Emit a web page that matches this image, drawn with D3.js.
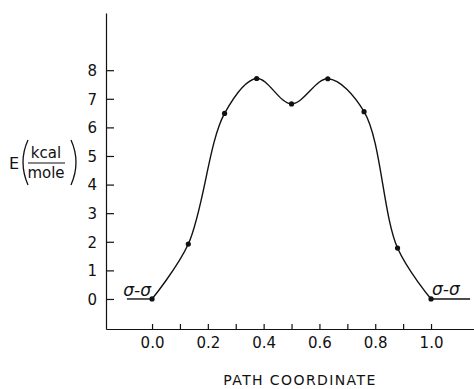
<!DOCTYPE html>
<html>
<head>
<meta charset="utf-8">
<script src="https://cdn.jsdelivr.net/npm/d3@7"></script>
<style>
    body { margin: 0; background: #fff; }
    text { font-family: "DejaVu Sans", sans-serif; fill: #111; }
</style>
</head>
<body>
<div class="canvas"></div>
<script>
// data
const pathCoord = [0.0, 0.13, 0.26, 0.375, 0.5, 0.63, 0.76, 0.88, 1.0];
const energy = [0.0, 1.92, 6.49, 7.71, 6.82, 7.70, 6.55, 1.78, 0.0];
const yTicks = [0, 1, 2, 3, 4, 5, 6, 7, 8];
const xTicks = [0.0, 0.1, 0.2, 0.3, 0.4, 0.5, 0.6, 0.7, 0.8, 0.9, 1.0];
const xLabelled = [0.0, 0.2, 0.4, 0.6, 0.8, 1.0];
const leftLevel = [-0.09, 0.0];
const rightLevel = [1.0, 1.14];
const levelLabel = 'σ-σ';

// svg
const svg = d3.select('.canvas')
    .append('svg')
    .attr('width', 474)
    .attr('height', 389);

// scales
const x = d3.scaleLinear()
    .domain([-0.165, 1.154])
    .range([106, 474]);

const y = d3.scaleLinear()
    .domain([-1.05, 10])
    .range([329, 13]);

// axes
const yAxis = d3.axisLeft(y)
    .tickValues(yTicks)
    .tickSize(-8)
    .tickSizeOuter(0)
    .tickPadding(9)
    .tickFormat(d3.format('d'));

const xAxis = d3.axisBottom(x)
    .tickValues(xTicks)
    .tickSize(-5)
    .tickSizeOuter(0)
    .tickPadding(8)
    .tickFormat(d => xLabelled.some(v => Math.abs(v - d) < 1e-9) ? d3.format('.1f')(d) : '');

const yAxisGroup = svg.append('g')
    .attr('transform', `translate(${x.range()[0]},0)`)
    .call(yAxis);

const xAxisGroup = svg.append('g')
    .attr('transform', `translate(0,${y.range()[0]})`)
    .call(xAxis);

[yAxisGroup, xAxisGroup].forEach(g => {
    g.selectAll('path, line').attr('stroke', '#111').attr('stroke-width', 1.2);
    g.selectAll('text')
        .attr('font-family', '"DejaVu Sans", sans-serif')
        .attr('font-size', 15)
        .attr('fill', '#111');
});
yAxisGroup.selectAll('text').attr('dy', '0.36em');

// curve through the points
const line = d3.line()
    .x(d => x(d[0]))
    .y(d => y(d[1]))
    .curve(d3.curveCatmullRom.alpha(0.5));

const pts = pathCoord.map((c, i) => [c, energy[i]]);

svg.append('path')
    .datum(pts)
    .attr('d', line)
    .attr('fill', 'none')
    .attr('stroke', '#111')
    .attr('stroke-width', 1.4);

svg.selectAll('circle')
    .data(pts)
    .enter()
    .append('circle')
    .attr('cx', d => x(d[0]))
    .attr('cy', d => y(d[1]))
    .attr('r', 2.6)
    .attr('fill', '#111');

// sigma-sigma levels
const flat = d3.line().x(d => x(d)).y(() => y(0));
[leftLevel, rightLevel].forEach(lv => {
    svg.append('path')
        .attr('d', flat(lv))
        .attr('stroke', '#111')
        .attr('stroke-width', 1.4)
        .attr('fill', 'none');
});

svg.append('text')
    .attr('x', x(0) - 1)
    .attr('y', y(0) - 3)
    .attr('text-anchor', 'end')
    .attr('font-size', 17)
    .attr('font-style', 'italic')
    .text(levelLabel);

svg.append('text')
    .attr('x', x(1) + 1)
    .attr('y', y(0) - 4)
    .attr('text-anchor', 'start')
    .attr('font-size', 17)
    .attr('font-style', 'italic')
    .text(levelLabel);

// x title
svg.append('text')
    .attr('x', 300)
    .attr('y', 385)
    .attr('text-anchor', 'middle')
    .attr('font-size', 14)
    .attr('letter-spacing', 1.4)
    .text('PATH COORDINATE');

// y title: E (kcal / mole)
const yLab = svg.append('g');
yLab.append('text')
    .attr('x', 9)
    .attr('y', 169)
    .attr('font-size', 16)
    .text('E');
yLab.append('path')
    .attr('d', 'M28,140 Q18,162 28,185')
    .attr('fill', 'none')
    .attr('stroke', '#111')
    .attr('stroke-width', 1.3);
yLab.append('path')
    .attr('d', 'M71,140 Q81,162 71,185')
    .attr('fill', 'none')
    .attr('stroke', '#111')
    .attr('stroke-width', 1.3);
yLab.append('text')
    .attr('x', 46)
    .attr('y', 158)
    .attr('text-anchor', 'middle')
    .attr('font-size', 15)
    .text('kcal');
yLab.append('line')
    .attr('x1', 28).attr('x2', 65)
    .attr('y1', 163).attr('y2', 163)
    .attr('stroke', '#111')
    .attr('stroke-width', 1.2);
yLab.append('text')
    .attr('x', 46)
    .attr('y', 178)
    .attr('text-anchor', 'middle')
    .attr('font-size', 15)
    .text('mole');
</script>
</body>
</html>
